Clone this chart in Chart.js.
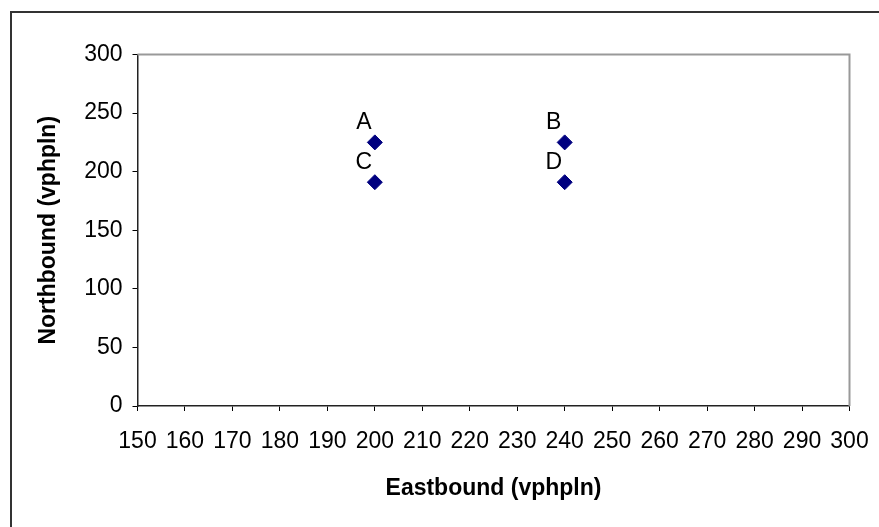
<!DOCTYPE html>
<html>
<head>
<meta charset="utf-8">
<script src="https://cdn.jsdelivr.net/npm/chart.js@4"></script>
<style>
  html, body { margin: 0; padding: 0; background: #fff; }
  #wrap { width: 879px; height: 527px; position: relative; }
</style>
</head>
<body>
<div id="wrap"><canvas id="chart" width="879" height="527"></canvas></div>
<script>
// Data
const pointNames = ['A', 'B', 'C', 'D'];
const eastbound = [200, 240, 200, 240];
const northbound = [225, 225, 191, 191];
const xTicks = [150, 160, 170, 180, 190, 200, 210, 220, 230, 240, 250, 260, 270, 280, 290, 300];
const yTicks = [0, 50, 100, 150, 200, 250, 300];

const FONT = 'Liberation Sans, Arial, sans-serif';

// Outer frame plus grey top/right edge of the plot area
const framePlugin = {
    id: 'frame',
    beforeDraw(chart) {
        const ctx = chart.ctx;
        ctx.save();
        ctx.strokeStyle = '#333';
        ctx.lineWidth = 2;
        ctx.beginPath();
        ctx.moveTo(11, 527);
        ctx.lineTo(11, 12);
        ctx.lineTo(879, 12);
        ctx.stroke();
        ctx.restore();
    },
    afterDatasetsDraw(chart) {
        const { ctx, chartArea: a } = chart;
        ctx.save();
        ctx.strokeStyle = '#999';
        ctx.lineWidth = 2;
        ctx.beginPath();
        ctx.moveTo(a.left, a.top);
        ctx.lineTo(a.right, a.top);
        ctx.lineTo(a.right, a.bottom);
        ctx.stroke();
        ctx.restore();
    }
};

// Letter labels up-left of each point
const letterPlugin = {
    id: 'letters',
    afterDatasetsDraw(chart) {
        const ctx = chart.ctx;
        const meta = chart.getDatasetMeta(0);
        ctx.save();
        ctx.font = '23px ' + FONT;
        ctx.fillStyle = '#000';
        ctx.textAlign = 'center';
        ctx.textBaseline = 'middle';
        meta.data.forEach((pt, i) => {
            ctx.fillText(pointNames[i], pt.x - 11, pt.y - 20);
        });
        ctx.restore();
    }
};

new Chart(document.getElementById('chart'), {
    type: 'scatter',
    data: {
        datasets: [{
            data: eastbound.map((x, i) => ({ x: x, y: northbound[i] })),
            pointStyle: 'rectRot',
            pointRadius: 7.5,
            pointHoverRadius: 7.5,
            backgroundColor: '#000080',
            borderColor: '#000080',
            borderWidth: 1
        }]
    },
    options: {
        responsive: false,
        animation: false,
        events: [],
        layout: { padding: { top: 54.5, right: 29.5, left: 0, bottom: 0 } },
        plugins: { legend: { display: false }, tooltip: { enabled: false } },
        scales: {
            x: {
                type: 'linear',
                min: 150,
                max: 300,
                afterBuildTicks: s => { s.ticks = xTicks.map(v => ({ value: v })); },
                afterFit: s => { s.height = 121; s.paddingLeft = 0; s.paddingRight = 0; },
                grid: { display: true, drawOnChartArea: false, drawTicks: true, tickLength: 5, color: '#000', lineWidth: 1 },
                border: { display: true, color: '#222', width: 1.5 },
                ticks: { color: '#000', font: { family: FONT, size: 23 }, padding: 17, maxRotation: 0, autoSkip: false },
                title: { display: true, text: 'Eastbound (vphpln)', color: '#000', font: { family: FONT, size: 23, weight: 'bold' }, padding: { bottom: 25 } }
            },
            y: {
                type: 'linear',
                min: 0,
                max: 300,
                afterBuildTicks: s => { s.ticks = yTicks.map(v => ({ value: v })); },
                afterFit: s => { s.width = 137.5; s.paddingTop = 0; s.paddingBottom = 0; },
                grid: { display: true, drawOnChartArea: false, drawTicks: true, tickLength: 5, color: '#000', lineWidth: 1 },
                border: { display: true, color: '#222', width: 1.5 },
                ticks: { color: '#000', font: { family: FONT, size: 23 }, padding: 10 },
                title: { display: true, text: 'Northbound (vphpln)', color: '#000', font: { family: FONT, size: 23, weight: 'bold' }, padding: { top: 35 } }
            }
        }
    },
    plugins: [framePlugin, letterPlugin]
});
</script>
</body>
</html>
